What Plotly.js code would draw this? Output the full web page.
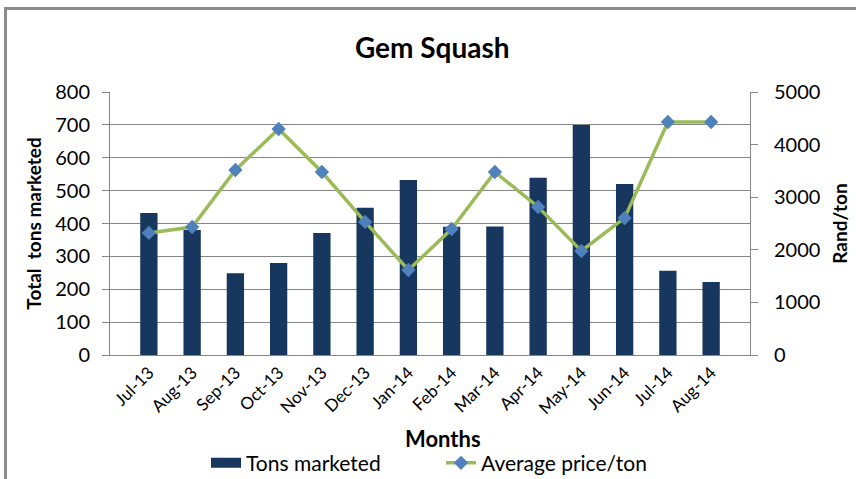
<!DOCTYPE html>
<html><head><meta charset="utf-8">
<script src="https://cdn.plot.ly/plotly-3.0.1.min.js"></script>
<style>
html,body{margin:0;padding:0;background:#fff;}
#frame{position:absolute;left:4px;top:7px;width:852px;height:472px;border-top:3px solid #8c8c8c;border-left:3px solid #8c8c8c;box-sizing:border-box;}
#chart{position:absolute;left:0;top:0;width:856px;height:479px;}
</style></head>
<body>
<div id="chart"></div>
<div id="frame"></div>
<script>
const months = ["Jul-13","Aug-13","Sep-13","Oct-13","Nov-13","Dec-13","Jan-14","Feb-14","Mar-14","Apr-14","May-14","Jun-14","Jul-14","Aug-14"];
const tonsMarketed = [432, 380, 249, 280, 371, 448, 532, 390, 391, 539, 700, 520, 256, 222];
const avgPrice = [2320, 2433, 3517, 4297, 3479, 2529, 1616, 2395, 3479, 2814, 1977, 2605, 4430, 4430];

const font = "Lato, 'Open Sans', sans-serif";
const navy = '#17375e';
const traces = [
  {type:'bar', x:months, y:tonsMarketed, name:'Tons marketed',
   marker:{color:navy}, yaxis:'y', showlegend:false, legendgroup:'a'},
  // legend-only swatch for the bars (wide rectangle like the original)
  {type:'scatter', mode:'lines', x:[months[0]], y:[null], name:'Tons marketed', legendgroup:'a',
   line:{color:navy, width:13}, yaxis:'y', hoverinfo:'skip'},
  {type:'scatter', mode:'lines+markers', x:months, y:avgPrice, name:'Average price/ton',
   line:{color:'#9bbb59', width:3.5}, marker:{symbol:'diamond', size:11, color:'#4f81bd'}, yaxis:'y2'}
];
const layout = {
  width:856, height:479,
  margin:{l:110, r:106, t:92, b:124},
  paper_bgcolor:'#fff', plot_bgcolor:'#fff',
  font:{family:font, color:'#000', size:19},
  title:{text:'<b>Gem Squash</b>', x:0.505, xanchor:'center', y:0.9, yanchor:'middle', font:{family:font, size:28, color:'#000'}},
  bargap:0.6,
  showlegend:true,
  legend:{orientation:'h', x:0.15, xanchor:'left', yref:'container', y:0.033, yanchor:'middle', font:{family:font, size:21}, traceorder:'normal', entrywidth:190},
  annotations:[{text:'<b>Months</b>', xref:'paper', yref:'paper', x:0.52, y:-0.316, xanchor:'center', yanchor:'middle', showarrow:false, font:{size:22, family:font, color:'#000'}}],
  xaxis:{type:'category', tickangle:-45, tickfont:{size:17, family:font}, showline:true, linecolor:'#868686', linewidth:1,
         ticks:'', showgrid:false, automargin:false},
  yaxis:{range:[0,800], dtick:100, showline:true, linecolor:'#868686', ticks:'outside', ticklen:7, tickcolor:'#868686',
         gridcolor:'#868686', gridwidth:1, zeroline:false, tickfont:{size:20, family:font}, ticklabelstandoff:8, automargin:false,
         title:{text:'<b>Total  tons marketed</b>', font:{size:19, family:font}, standoff:8}},
  yaxis2:{range:[0,5000], dtick:1000, overlaying:'y', side:'right', showline:true, linecolor:'#868686', ticks:'outside', ticklen:7, tickcolor:'#868686',
          showgrid:false, zeroline:false, tickfont:{size:20, family:font}, ticklabelstandoff:12, automargin:false,
          title:{text:'<b>Rand/ton</b>', font:{size:19, family:font}, standoff:14}}
};
Plotly.newPlot('chart', traces, layout, {displayModeBar:false, staticPlot:true});
</script>
</body></html>
